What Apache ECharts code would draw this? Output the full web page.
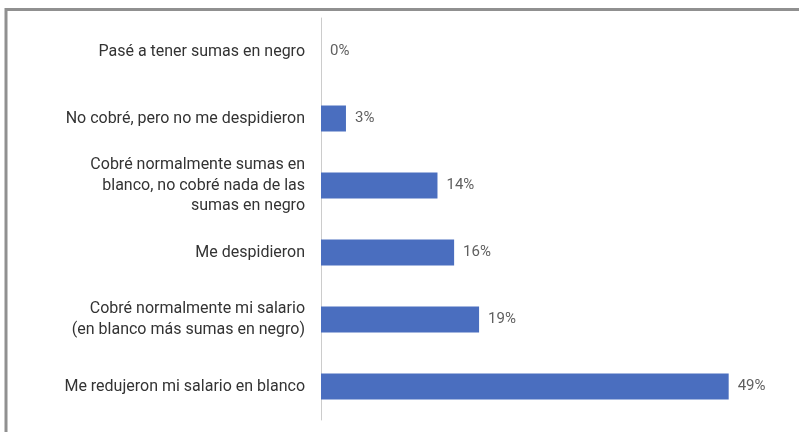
<!DOCTYPE html>
<html>
<head>
<meta charset="utf-8">
<script src="https://cdn.jsdelivr.net/npm/echarts@6/dist/echarts.min.js"></script>
<style>
html,body{margin:0;padding:0;background:#fff;}
#chart{width:799px;height:432px;}
</style>
</head>
<body>
<div id="chart"></div>
<script>
const categories = [
  "Pasé a tener sumas en negro",
  "No cobré, pero no me despidieron",
  "Cobré normalmente sumas en\nblanco, no cobré nada de las\nsumas en negro",
  "Me despidieron",
  "Cobré normalmente mi salario\n(en blanco más sumas en negro)",
  "Me redujeron mi salario en blanco"
];
const values = [0, 3, 14, 16, 19, 49];

const chart = echarts.init(document.getElementById('chart'), null, {renderer: 'canvas'});
chart.setOption({
  backgroundColor: '#ffffff',
  animation: false,
  textStyle: {fontFamily: 'Roboto'},
  graphic: [{
    type: 'polyline',
    silent: true,
    shape: {points: [[6, 700], [6, 9.5], [900, 9.5]]},
    style: {fill: 'none', stroke: '#909090', lineWidth: 3}
  }],
  grid: {left: 321, right: 62, top: 18, bottom: 12, containLabel: false},
  xAxis: {
    type: 'value', min: 0, max: 50, show: false,
    splitLine: {show: false}
  },
  yAxis: {
    type: 'category',
    data: categories,
    inverse: true,
    axisLine: {show: true, lineStyle: {color: '#cccccc', width: 1}},
    axisTick: {show: false},
    axisLabel: {
      margin: 16, fontSize: 16, color: '#333333', lineHeight: 20.5,
      align: 'right', fontFamily: 'Roboto'
    }
  },
  series: [{
    type: 'bar',
    data: values,
    barWidth: 26,
    itemStyle: {color: '#4a6ebf'},
    label: {
      show: true, position: 'right', distance: 9,
      formatter: '{c}%', color: '#5f5f5f', fontSize: 15, fontFamily: 'Roboto'
    }
  }]
});
</script>
</body>
</html>
